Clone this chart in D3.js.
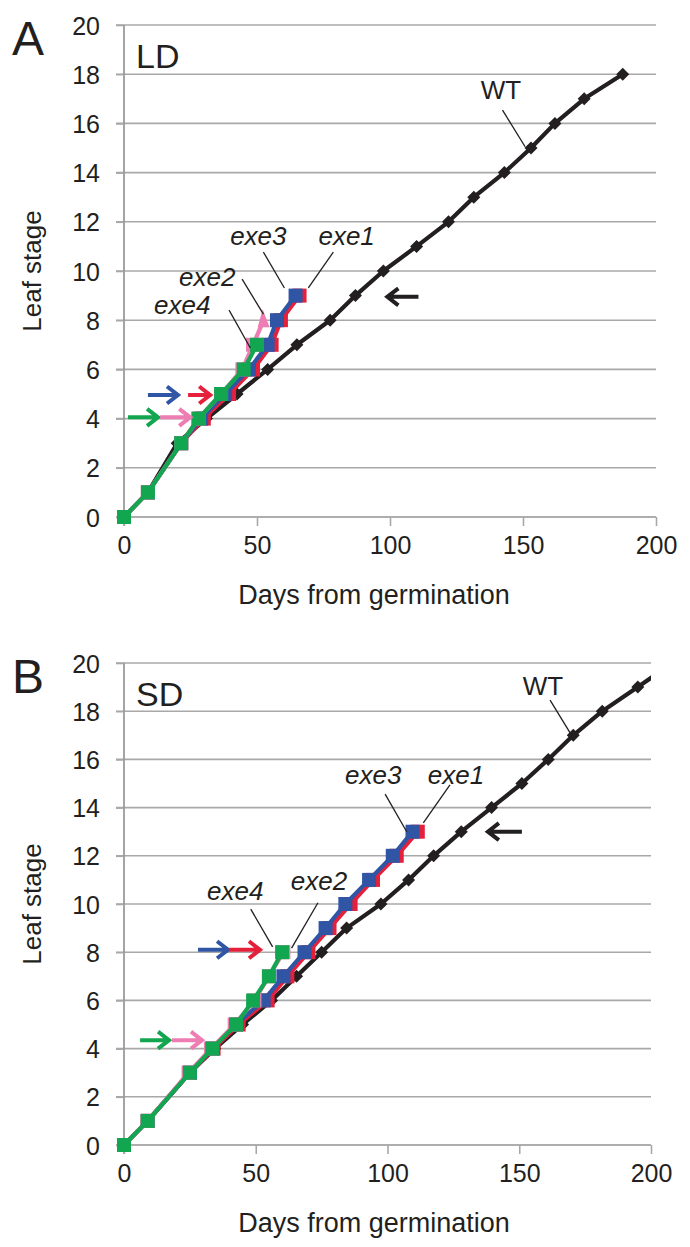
<!DOCTYPE html>
<html><head><meta charset="utf-8">
<script src="https://cdnjs.cloudflare.com/ajax/libs/d3/7.8.5/d3.min.js"></script>
<style>
html,body{margin:0;padding:0;background:#fff;}
svg{display:block;font-family:"Liberation Sans",Arial,Helvetica,sans-serif;}
</style></head>
<body>
<svg id="chart" width="690" height="1247"></svg>
<script>
// ---------- DATA ----------
const xTicks = [0, 50, 100, 150, 200];
const yTicks = [0, 2, 4, 6, 8, 10, 12, 14, 16, 18, 20];

// Panel A (LD): [day, leaf stage]
const ldWT   = [[0,0],[9,1],[20,3],[31,4],[42.5,5],[54,6],[65,7],[77.5,8],[87,9],[97.5,10],[110,11],[122,12],[131.5,13],[143,14],[153,15],[162,16],[173,17],[187.5,18]];
const ldExe1 = [[0,0],[9,1],[21.5,3],[30,4],[39.5,5],[48.5,6],[55.5,7],[59,8],[66,9]];
const ldExe3 = [[0,0],[9,1],[21.5,3],[29,4],[38,5],[47,6],[54,7],[57.5,8],[64.5,9]];
const ldExe2 = [[0,0],[9,1],[21.5,3],[28,4],[36.5,5],[44.5,6],[48.5,7],[52.5,8]];
const ldExe4 = [[0,0],[9,1],[21.5,3],[28,4],[36.5,5],[45,6],[50,7]];

// Panel B (SD)
const sdWT   = [[0,0],[9,1],[25,3],[34.5,4],[45,5],[56,6],[65.5,7],[75,8],[84.5,9],[97.5,10],[108,11],[117.5,12],[128,13],[139.5,14],[151,15],[161,16],[170.5,17],[181.5,18],[195,19],[208,20]];
const sdExe1 = [[0,0],[9,1],[25,3],[34,4],[43.5,5],[54.5,6],[62,7],[70,8],[78,9],[86,10],[94.5,11],[103.5,12],[111.5,13]];
const sdExe3 = [[0,0],[9,1],[25,3],[33.5,4],[42.5,5],[53,6],[60.5,7],[68.5,8],[76.5,9],[84,10],[93,11],[102,12],[109.5,13]];
const sdExe2 = [[0,0],[9,1],[24.5,3],[33,4],[42,5],[49.5,6],[55,7],[60.5,8]];
const sdExe4 = [[0,0],[9,1],[25,3],[33.5,4],[42.5,5],[49,6],[55,7],[60,8]];

// Arrows: [series, tail day, tip day, leaf stage]
const ldArrows = [["exe3",9,20.3,4.96],["exe1",24.1,32.4,4.96],["exe4",1.5,12.8,4.05],["exe2",13.6,24.9,4.05],["WT",110.7,99,8.95]];
const sdArrows = [["exe3",28.1,39.5,8.1],["exe1",39.8,51.6,8.1],["exe4",6.1,17.1,4.35],["exe2",18.2,29.6,4.35],["WT",151,138.1,13]];

// Labels: [text, x day, baseline leaf, leader x1, y1, x2, y2]
const ldLabels = [["exe3",39.9,11.06,52.4,10.77,60.3,9.31],["exe1",73.1,11.06,78.7,10.77,69.3,9.31],["exe2",20.7,9.39,44.4,9.67,52.4,8.25],["exe4",11.3,8.25,39.5,8.41,47.5,6.87],["WT",134.1,17.0,142.3,16.54,150.8,15.05]];
const sdLabels = [["exe3",83.9,15.0,99.1,14.56,107.3,13.0],["exe1",115.3,15.0,123.7,14.94,113.6,13.37],["exe4",31.5,10.17,48.1,9.79,56.4,8.22],["exe2",63.3,10.58,73.6,10.05,63.6,8.17],["WT",151.3,18.67,161.7,18.46,169.3,17.1]];

// ---------- STYLE ----------
const colors = {WT:"#231f20", exe1:"#e5203b", exe3:"#2f55a4", exe2:"#ee7db3", exe4:"#12a650"};
const gridCol = "#a8a8a8", axisCol = "#8e8e8e", textCol = "#231f20";

const svg = d3.select("#chart");

function panel(cfg){
  const g = svg.append("g");
  const x = d3.scaleLinear().domain([0,200]).range([cfg.left, cfg.right]);
  const y = d3.scaleLinear().domain([0,20]).range([cfg.bottom, cfg.top]);

  // grid lines
  g.append("g").selectAll("line").data(yTicks).join("line")
    .attr("x1", cfg.left - 8).attr("x2", cfg.right)
    .attr("y1", d => y(d)).attr("y2", d => y(d))
    .attr("stroke", gridCol).attr("stroke-width", 1.6);

  // y axis
  const ya = g.append("g").attr("transform", `translate(${cfg.left},0)`)
    .call(d3.axisLeft(y).tickValues(yTicks).tickSize(8).tickPadding(16));
  ya.select(".domain").attr("stroke", axisCol).attr("stroke-width", 1.6)
    .attr("d", `M0,${cfg.top}V${cfg.bottom + 9}`);
  ya.selectAll(".tick line").attr("stroke", gridCol).attr("stroke-width", 1.6);
  ya.selectAll("text").attr("fill", textCol).style("font-size", "25px").attr("dy", "0.36em");

  // x axis
  const xa = g.append("g").attr("transform", `translate(0,${cfg.bottom})`)
    .call(d3.axisBottom(x).tickValues(xTicks).tickSize(9).tickPadding(10));
  xa.select(".domain").attr("stroke", gridCol).attr("stroke-width", 1.6)
    .attr("d", `M${cfg.left},0H${cfg.right}`);
  xa.selectAll(".tick line").attr("stroke", gridCol).attr("stroke-width", 1.6);
  xa.selectAll("text").attr("fill", textCol).style("font-size", "25px").attr("dy", "0.71em");

  // axis titles
  g.append("text").attr("x", cfg.left + 250).attr("y", cfg.bottom + 87)
    .attr("text-anchor", "middle").attr("fill", textCol).style("font-size", "27px")
    .text("Days from germination");
  g.append("text").attr("transform", `translate(41,${(cfg.top + cfg.bottom) / 2}) rotate(-90)`)
    .attr("text-anchor", "middle").attr("fill", textCol).style("font-size", "26px")
    .text("Leaf stage");

  // panel letter & condition
  g.append("text").attr("x", 12).attr("y", cfg.top + 30).attr("fill", textCol)
    .style("font-size", "48px").text(cfg.letter);
  g.append("text").attr("x", cfg.left + 12).attr("y", cfg.top + 43).attr("fill", textCol)
    .style("font-size", "34px").text(cfg.cond);

  // clip
  const cid = "clip" + cfg.letter;
  svg.append("clipPath").attr("id", cid).append("rect")
    .attr("x", cfg.left - 10).attr("y", cfg.top - 10)
    .attr("width", cfg.right - cfg.left + 10).attr("height", cfg.bottom - cfg.top + 22);
  const plot = g.append("g").attr("clip-path", `url(#${cid})`);

  const line = d3.line().x(d => x(d[0])).y(d => y(d[1]));

  cfg.series.forEach(([key, data]) => {
    const c = colors[key];
    plot.append("path").datum(data).attr("d", line).attr("fill", "none")
      .attr("stroke", c).attr("stroke-width", 4.2).attr("stroke-linejoin", "round");
    if (key === "WT") {
      plot.selectAll(null).data(data).join("rect")
        .attr("x", -4.6).attr("y", -4.6).attr("width", 9.2).attr("height", 9.2)
        .attr("transform", d => `translate(${x(d[0])},${y(d[1])}) rotate(45)`)
        .attr("fill", c);
    } else {
      const last = data.length - 1;
      plot.selectAll(null).data(data).join("path")
        .attr("d", (d, i) => {
          const px = x(d[0]), py = y(d[1]);
          if (cfg.tipKey === key && i === last) {
            return `M${px - 6},${py + 7}L${px - 1},${py - 11}L${px + 6},${py + 7}Z`;
          }
          return `M${px - 7},${py - 7}h14v14h-14Z`;
        })
        .attr("fill", c);
    }
  });

  // arrows
  cfg.arrows.forEach(([key, t0, t1, lv]) => {
    const xa0 = x(t0), xa1 = x(t1), yy = y(lv);
    const dir = xa1 > xa0 ? 1 : -1;
    g.append("path")
      .attr("d", `M${xa0},${yy}H${xa1 - dir * 2}M${xa1 - dir * 11},${yy - 8.5}L${xa1},${yy}L${xa1 - dir * 11},${yy + 8.5}`)
      .attr("fill", "none").attr("stroke", colors[key]).attr("stroke-width", 4)
      .attr("stroke-linejoin", "miter");
  });

  // labels
  cfg.labels.forEach(([t, lx, ly, a1, b1, a2, b2]) => {
    g.append("text").attr("x", x(lx)).attr("y", y(ly)).attr("fill", textCol)
      .style("font-size", "26px").style("font-style", t === "WT" ? "normal" : "italic").text(t);
    g.append("line").attr("x1", x(a1)).attr("y1", y(b1)).attr("x2", x(a2)).attr("y2", y(b2))
      .attr("stroke", textCol).attr("stroke-width", 1.3);
  });
}

panel({letter:"A", cond:"LD", left:124, right:656, top:25, bottom:517, tipKey:"exe2",
  series:[["WT",ldWT],["exe1",ldExe1],["exe3",ldExe3],["exe2",ldExe2],["exe4",ldExe4]],
  arrows:ldArrows, labels:ldLabels});
panel({letter:"B", cond:"SD", left:124, right:651, top:663, bottom:1145, tipKey:null,
  series:[["WT",sdWT],["exe1",sdExe1],["exe3",sdExe3],["exe2",sdExe2],["exe4",sdExe4]],
  arrows:sdArrows, labels:sdLabels});
</script>
</body></html>
